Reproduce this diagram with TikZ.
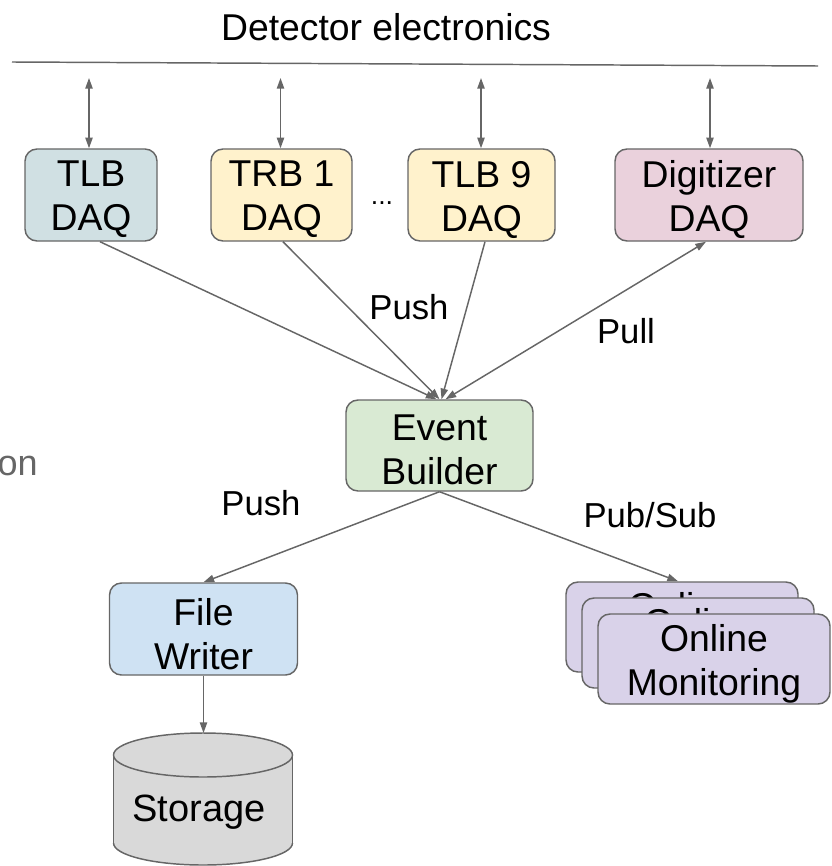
\documentclass[tikz,border=0pt]{standalone}
\usepackage{fontspec}
\setmainfont{Liberation Sans}
\usetikzlibrary{arrows.meta,calc}
\definecolor{edge}{HTML}{666666}
\definecolor{ctlb}{HTML}{D0E0E3}
\definecolor{ctrb}{HTML}{FFF2CC}
\definecolor{cdig}{HTML}{EAD1DC}
\definecolor{ceb}{HTML}{D9EAD3}
\definecolor{cfw}{HTML}{CFE2F3}
\definecolor{com}{HTML}{D9D2E9}
\definecolor{cst}{HTML}{D9D9D9}
\definecolor{graytxt}{HTML}{666666}
\begin{document}
\begin{tikzpicture}[x=0.75pt,y=-0.75pt,
  box/.style={draw=edge, line width=1.1pt, rounded corners=9pt, inner sep=0pt,
    minimum height=69pt},
  boxtext/.style={align=center, inner sep=0pt, yshift=-3.5pt, font=\fontsize{28}{33}\selectfont},
  conn/.style={draw=edge, line width=1.1pt, -{Triangle[length=8pt,width=5.5pt]}},
  bidir/.style={draw=edge, line width=1.1pt, {Triangle[length=8pt,width=5.5pt]}-{Triangle[length=8pt,width=5.5pt]}},
  lbl/.style={font=\fontsize{26}{30}\selectfont, inner sep=0pt}]
\useasboundingbox (0,0) rectangle (831,866);

% title and bus line
\node[font=\fontsize{28}{30}\selectfont, inner sep=0pt] (title) at (386,27) {Detector electronics};
\coordinate (busL) at (12,62);
\coordinate (busR) at (818,66);
\draw[edge, line width=1.1pt] (busL) -- (busR);

% DAQ boxes
\node[box, fill=ctlb, minimum width=99pt, label={[boxtext]center:{TLB\\DAQ}}] (tlb) at (91,195) {};
\node[box, fill=ctrb, minimum width=105.75pt, label={[boxtext]center:{TRB 1\\DAQ}}] (trb) at (281.5,195) {};
\node[box, fill=ctrb, minimum width=110.25pt, label={[boxtext]center:{TLB 9\\DAQ}}] (tlb9) at (481.5,195) {};
\node[box, fill=cdig, minimum width=141pt, label={[boxtext]center:{Digitizer\\DAQ}}] (dig) at (709,195) {};
\node[font=\fontsize{20}{24}\selectfont, inner sep=0pt] (dots) at (382,203) {...};

% vertical bidirectional arrows
\coordinate (d1) at (89,78);
\coordinate (d2) at (280.5,78);
\coordinate (d3) at (481,78);
\coordinate (d4) at (710,78);
\draw[bidir] (d1) -- (d1 |- tlb.north);
\draw[bidir] (d2) -- (d2 |- trb.north);
\draw[bidir] (d3) -- (d3 |- tlb9.north);
\draw[bidir] (d4) -- (d4 |- dig.north);

% event builder
\node[box, fill=ceb, minimum width=140.25pt, minimum height=68.25pt, label={[boxtext]center:{Event\\Builder}}] (eb) at (439.5,445.5) {};

\draw[conn] ($(tlb.south)+(9,0)$) -- ($(eb.north)+(-3,0)$);
\draw[conn] ($(trb.south)+(1.5,0)$) -- ($(eb.north)+(0,0)$);
\draw[conn] ($(tlb9.south)+(3.5,0)$) -- ($(eb.north)+(2,0)$);
\draw[bidir] ($(dig.south)+(-3,0)$) -- ($(eb.north)+(6,0)$);

\node[lbl] (push1) at (409,307) {Push};
\node[lbl] (pull) at (626,331) {Pull};
\node[lbl] (push2) at (261,503) {Push};
\node[lbl] (pubsub) at (650,515) {Pub/Sub};

\node[font=\fontsize{27}{30}\selectfont, text=graytxt, inner sep=0pt, anchor=east] (on) at (38,466) {on};

% file writer
\node[box, fill=cfw, minimum width=141pt, label={[boxtext]center:{File\\Writer}}] (fw) at (203.5,629) {};

% online monitoring stack
\node[box, fill=com, minimum width=174pt, minimum height=67.5pt, label={[boxtext]center:{Online\\Monitoring}}] (om1) at (682,627) {};
\node[box, fill=com, minimum width=174pt, minimum height=67.5pt, label={[boxtext]center:{Online\\Monitoring}}] (om2) at (698,643) {};
\node[box, fill=com, minimum width=174pt, minimum height=67.5pt, label={[boxtext]center:{Online\\Monitoring}}] (om3) at (714,659) {};

\draw[conn] (eb.south) -- (fw.north);
\draw[conn] (eb.south) -- ($(om1.north)+(-4,0)$);

% storage cylinder
\fill[cst] (113.5,755) rectangle (292.5,843);
\fill[cst] (203,843) ellipse [x radius=89.5, y radius=22];
\draw[edge, line width=1.1pt] (113.5,755) -- (113.5,843);
\draw[edge, line width=1.1pt] (292.5,755) -- (292.5,843);
\begin{scope}
  \clip (100,843) rectangle (300,880);
  \draw[edge, line width=1.1pt] (203,843) ellipse [x radius=89.5, y radius=22];
\end{scope}
\filldraw[fill=cst, draw=edge, line width=1.1pt] (203,755) ellipse [x radius=89.5, y radius=22];
\coordinate (sttop) at (203.5,733);
\node[font=\fontsize{28.5}{33}\selectfont, inner sep=0pt] (st) at (199,812) {Storage};

\draw[conn] (fw.south) -- (sttop);
\end{tikzpicture}
\end{document}
